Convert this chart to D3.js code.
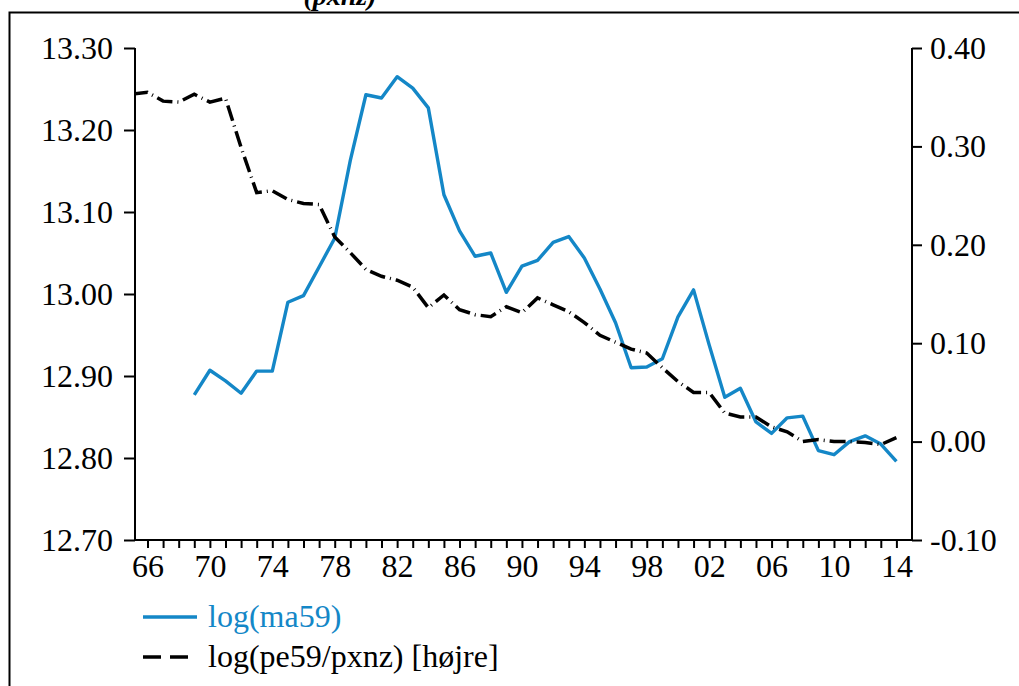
<!DOCTYPE html>
<head>
    <title>log(ma59) og log(pe59/pxnz)</title>
    <script src="https://cdnjs.cloudflare.com/ajax/libs/d3/7.8.5/d3.min.js"></script>
    <style>
    body {
        margin:0;
        background:white;
    }
    svg text {
        font-family:"Liberation Serif", "DejaVu Serif", serif;
    }
    </style>
</head>
<body>
<div id='chart'></div>
<script>
    // years for the two series
    var yearsMa = d3.range(1969, 2015);
    var yearsPe = d3.range(1965, 2015);

    // log(ma59), left axis
    var ma59 = [
        12.877, 12.907, 12.894, 12.879, 12.906, 12.906, 12.990, 12.998, 13.033, 13.068,
        13.163, 13.243, 13.239, 13.265, 13.251, 13.227, 13.121, 13.077, 13.046, 13.050,
        13.002, 13.034, 13.041, 13.063, 13.070, 13.044, 13.006, 12.965, 12.910, 12.911,
        12.921, 12.972, 13.005, 12.938, 12.874, 12.885, 12.844, 12.830, 12.849, 12.851,
        12.809, 12.804, 12.820, 12.827, 12.817, 12.796
    ];

    // log(pe59/pxnz), right axis
    var pe59 = [
        0.353, 0.355, 0.346, 0.345, 0.353, 0.345, 0.349, 0.299, 0.253, 0.255,
        0.246, 0.242, 0.241, 0.208, 0.192, 0.175, 0.168, 0.164, 0.157, 0.136,
        0.149, 0.134, 0.129, 0.127, 0.137, 0.131, 0.146, 0.139, 0.132, 0.121,
        0.108, 0.101, 0.094, 0.090, 0.075, 0.061, 0.050, 0.050, 0.029, 0.025,
        0.025, 0.015, 0.010, 0.000, 0.002, 0.000, 0.000, -0.001, -0.003, 0.004
    ];

    var leftTicks = [12.70, 12.80, 12.90, 13.00, 13.10, 13.20, 13.30];
    var rightTicks = [-0.10, 0.00, 0.10, 0.20, 0.30, 0.40];
    var yearTicks = d3.range(1966, 2015);
    var yearLabels = d3.range(1966, 2015, 4);

    var legendNames = ['log(ma59)', 'log(pe59/pxnz) [højre]'];
    var blue = '#1487c7';
    var fontSize = 32;

    // plain hyphen for negative numbers, like the original
    function fmt(d) {
        return d3.format('.2f')(d).replace('\u2212', '-');
    }

    var svg = d3.select('#chart')
        .append('svg')
        .attr('width', 1019)
        .attr('height', 686);

    // frame, cut off by the window on the right and bottom
    svg.append('path')
        .attr('d', 'M9.5,700 V12.5 H1030')
        .attr('fill', 'none')
        .attr('stroke', 'black')
        .attr('stroke-width', 2);

    // title, mostly outside the window
    svg.append('text')
        .attr('x', 340)
        .attr('y', 5)
        .attr('text-anchor', 'middle')
        .attr('font-size', 28)
        .attr('font-weight', 'bold')
        .attr('font-style', 'italic')
        .text('(pxnz)');

    var x = d3.scaleLinear().domain([1965.2, 2015]).range([135, 912]);
    var yL = d3.scaleLinear().domain([12.70, 13.30]).range([540, 48]);
    var yR = d3.scaleLinear().domain([-0.10, 0.40]).range([540, 48]);

    svg.append('defs').append('clipPath')
        .attr('id', 'plot-clip')
        .append('rect')
        .attr('x', 135).attr('y', 40)
        .attr('width', 777).attr('height', 510);

    // axes
    var gL = svg.append('g')
        .attr('transform', 'translate(135,0)')
        .call(d3.axisLeft(yL).tickValues(leftTicks).tickSize(11).tickPadding(11)
            .tickFormat(fmt));

    var gR = svg.append('g')
        .attr('transform', 'translate(912,0)')
        .call(d3.axisRight(yR).tickValues(rightTicks).tickSize(10).tickPadding(8)
            .tickFormat(fmt));

    var gX = svg.append('g')
        .attr('transform', 'translate(0,540)')
        .call(d3.axisBottom(x).tickValues(yearTicks).tickSize(8).tickPadding(6)
            .tickFormat(function(d) {
                return yearLabels.indexOf(d) >= 0 ? d3.format('02d')(d % 100) : '';
            }));

    [gL, gR, gX].forEach(function(g) {
        g.attr('font-family', null);
        g.select('.domain').attr('stroke-width', 2);
        g.selectAll('.tick line').attr('stroke-width', 2);
        g.selectAll('text')
            .attr('font-size', fontSize)
            .attr('font-family', '"Liberation Serif", serif')
            .attr('fill', 'black');
    });
    gX.select('.domain').attr('d', 'M135,0H912');
    gL.select('.domain').attr('d', 'M0,540V48');
    gR.select('.domain').attr('d', 'M0,540V48');

    // lines
    var lineMa = d3.line()
        .x(function(d, i) { return x(yearsMa[i]); })
        .y(function(d) { return yL(d); });

    var linePe = d3.line()
        .x(function(d, i) { return x(yearsPe[i]); })
        .y(function(d) { return yR(d); });

    var plot = svg.append('g').attr('clip-path', 'url(#plot-clip)');

    plot.append('path')
        .datum(ma59)
        .attr('d', lineMa)
        .attr('fill', 'none')
        .attr('stroke', blue)
        .attr('stroke-width', 3.4)
        .attr('stroke-linejoin', 'round');

    plot.append('path')
        .datum(pe59)
        .attr('d', linePe)
        .attr('fill', 'none')
        .attr('stroke', 'black')
        .attr('stroke-width', 3.5)
        .attr('stroke-dasharray', '16,5,1,5');

    // legend
    var legend = svg.append('g');
    legend.append('line')
        .attr('x1', 143).attr('x2', 197)
        .attr('y1', 617).attr('y2', 617)
        .attr('stroke', blue)
        .attr('stroke-width', 3.4);
    legend.append('text')
        .attr('x', 208).attr('y', 627)
        .attr('font-size', fontSize)
        .attr('fill', blue)
        .text(legendNames[0]);
    legend.append('line')
        .attr('x1', 143).attr('x2', 188)
        .attr('y1', 657).attr('y2', 657)
        .attr('stroke', 'black')
        .attr('stroke-width', 3.5)
        .attr('stroke-dasharray', '18,9');
    legend.append('text')
        .attr('x', 208).attr('y', 667)
        .attr('font-size', fontSize)
        .attr('fill', 'black')
        .text(legendNames[1]);
</script>
</body>
</html>
